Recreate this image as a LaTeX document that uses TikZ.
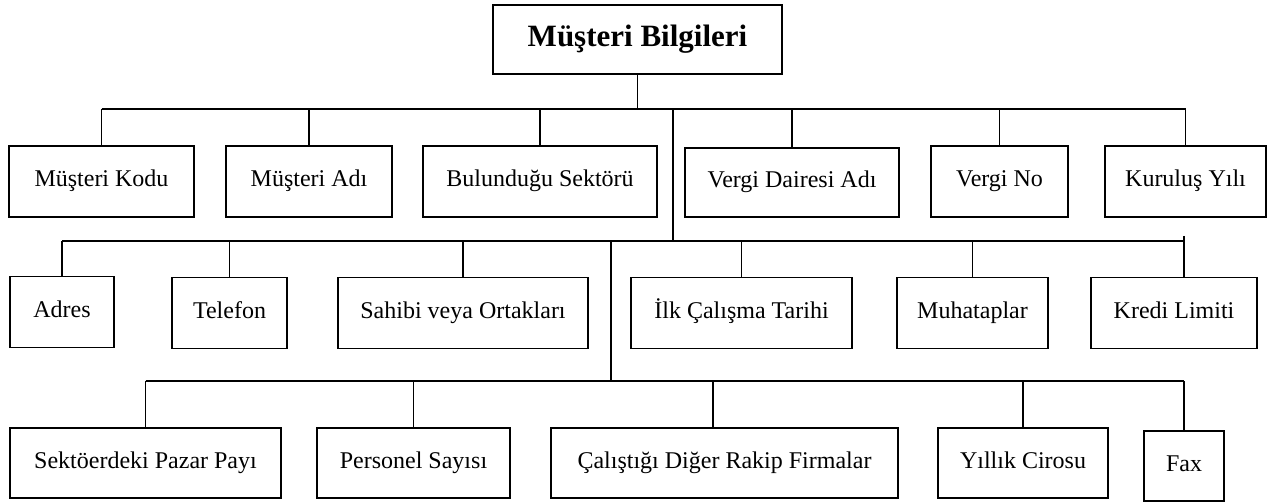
\documentclass[tikz,border=0pt]{standalone}
\usepackage{fontspec}
\setmainfont{Liberation Serif}
\usetikzlibrary{calc}
\begin{document}
\begin{tikzpicture}[x=1pt,y=-1pt,
  box/.style={draw, line width=1.6pt, inner sep=0pt, minimum height=71pt,
    text height=16pt, text depth=5pt,
    font=\fontsize{24}{28}\selectfont},
  link/.style={line width=1.6pt}]
\useasboundingbox (0,0) rectangle (1277,502);
\fill[white] (0,0) rectangle (1277,502);

% root
\node[box, minimum width=289pt, minimum height=69pt, text height=21pt, text depth=6pt,
  font=\fontsize{31}{36}\selectfont\bfseries] (root) at (637.5,39.5) {Müşteri Bilgileri};

% first row
\node[box, minimum width=185pt] (kodu)   at (101.5,181.5) {Müşteri Kodu};
\node[box, minimum width=166pt] (adi)    at (309,181.5)   {Müşteri Adı};
\node[box, minimum width=234pt] (sektor) at (540,181.5)   {Bulunduğu Sektörü};
\node[box, minimum width=214pt, minimum height=69pt] (daire) at (792,182.5) {Vergi Dairesi Adı};
\node[box, minimum width=137pt] (vno)    at (999.5,181.5) {Vergi No};
\node[box, minimum width=161pt] (yil)    at (1185.5,181.5){Kuruluş Yılı};

% second row
\node[box, minimum width=104pt] (adres)  at (62,312)      {Adres};
\node[box, minimum width=115pt] (tel)    at (229.5,313)   {Telefon};
\node[box, minimum width=250pt] (sahip)  at (463,313)     {Sahibi veya Ortakları};
\node[box, minimum width=221pt] (ilk)    at (741.5,313)   {İlk Çalışma Tarihi};
\node[box, minimum width=151pt] (muh)    at (972.5,313)   {Muhataplar};
\node[box, minimum width=166pt] (kredi)  at (1174,313)    {Kredi Limiti};

% third row
\node[box, minimum width=271pt, minimum height=70pt] (pazar) at (145.5,463) {Sektöerdeki Pazar Payı};
\node[box, minimum width=193pt, minimum height=70pt] (pers)  at (413.5,463) {Personel Sayısı};
\node[box, minimum width=347pt, minimum height=70pt] (rakip) at (724.5,463) {Çalıştığı Diğer Rakip Firmalar};
\node[box, minimum width=170pt, minimum height=70pt] (ciro)  at (1023,463)  {Yıllık Cirosu};
\node[box, minimum width=80pt,  minimum height=70pt] (fax)   at (1184,466)  {Fax};

% bus levels
\coordinate (b1) at (0,109);
\coordinate (b2) at (0,241);
\coordinate (b3) at (0,381);
\coordinate (t1) at (673,0);
\coordinate (t2) at (611,0);
\coordinate (kd) at (1184,236);

% root to first row
\draw[link] (root.south) -- (root.south |- b1);
\draw[link] (kodu.north |- b1) -- (yil.north |- b1);
\foreach \n in {kodu,adi,sektor,daire,vno,yil}
  \draw[link] (\n.north |- b1) -- (\n.north);

% trunk to second row
\draw[link] (t1 |- b1) -- (t1 |- b2);
\draw[link] (adres.north |- b2) -- (kd |- b2);
\foreach \n in {adres,tel,sahip,ilk,muh}
  \draw[link] (\n.north |- b2) -- (\n.north);
\draw[link] (kd) -- (kd |- kredi.north);

% trunk to third row
\draw[link] (t2 |- b2) -- (t2 |- b3);
\draw[link] (pazar.north |- b3) -- (fax.north |- b3);
\foreach \n in {pazar,pers,ciro,fax}
  \draw[link] (\n.north |- b3) -- (\n.north);
\draw[link] ([xshift=-11.5pt]rakip.north |- b3) -- ([xshift=-11.5pt]rakip.north);
\end{tikzpicture}
\end{document}
